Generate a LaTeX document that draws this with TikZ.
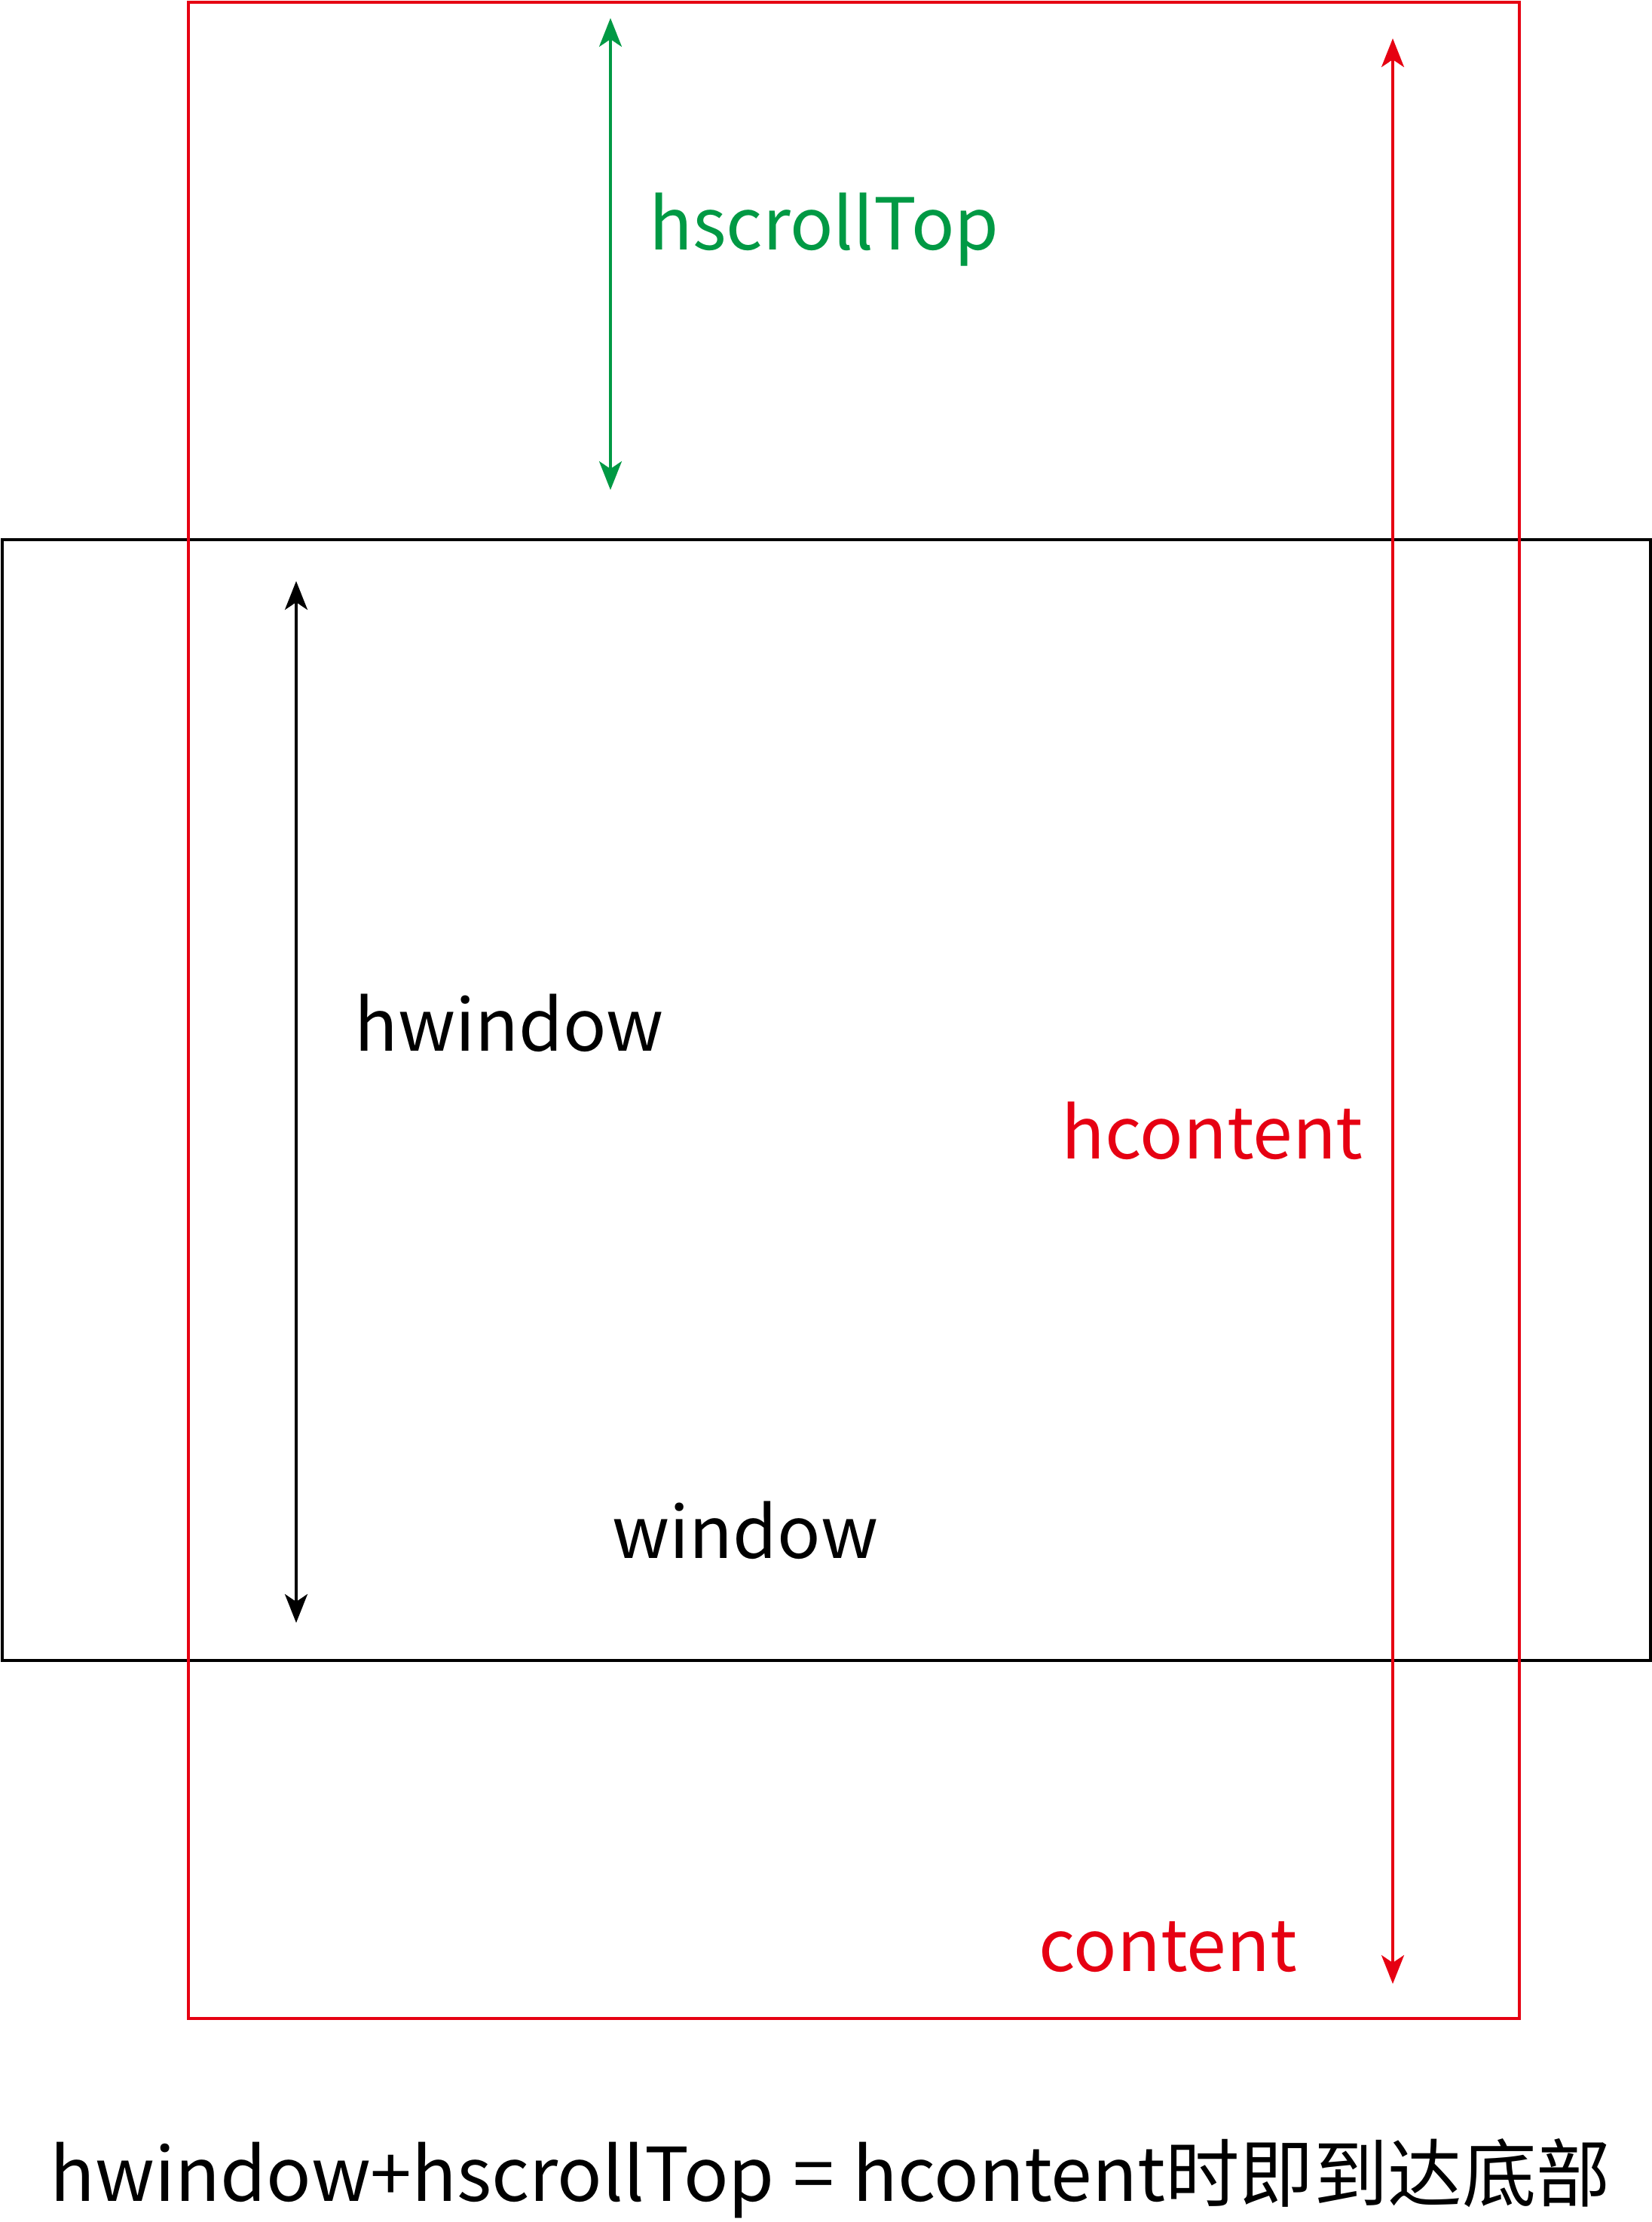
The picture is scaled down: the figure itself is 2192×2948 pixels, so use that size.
\documentclass[tikz,border=0pt]{standalone}
\usepackage{fontspec}
\setmainfont{Noto Sans CJK SC}
\usetikzlibrary{arrows.meta}
\definecolor{cred}{RGB}{230,0,18}
\definecolor{cgreen}{RGB}{0,153,68}
\tikzset{
  dim/.style={line width=1pt,{Stealth[length=0.38cm,width=0.3cm,inset=0.1cm]}-{Stealth[length=0.38cm,width=0.3cm,inset=0.1cm]}},
  lbl/.style={anchor=west,inner sep=0pt,font=\fontsize{27}{30}\selectfont}
}
\begin{document}
\begin{tikzpicture}[x=0.01cm,y=-0.01cm]
    \useasboundingbox (0,0) rectangle (2192,2948);
    \draw[line width=1pt] (3,716) rectangle (2190,2203);
    \draw[cred,line width=1.1pt] (250,3) rectangle (2016,2678);
    \coordinate (gt) at (810,24);
    \coordinate (gb) at (810,650);
    \coordinate (kt) at (393,771);
    \coordinate (kb) at (393,2153);
    \coordinate (rt) at (1848,51);
    \coordinate (rb) at (1848,2632);
    \draw[dim,cgreen] (gt)--(gb);
    \draw[dim,black] (kt)--(kb);
    \draw[dim,cred] (rt)--(rb);
    \node[lbl,cgreen] (sc) at (861,305) {hscrollTop};
    \node[lbl] (hw) at (470,1357) {hwindow};
    \node[lbl,cred] (hc) at (1408,1500) {hcontent};
    \node[lbl] (wi) at (812,2030) {window};
    \node[lbl,cred] (co) at (1378,2583) {content};
    \node[lbl,font=\fontsize{28}{30}\selectfont] (eq) at (66,2890) {hwindow+hscrollTop\hspace{0.25em}=\hspace{0.25em}hcontent时即到达底部};
  \end{tikzpicture}
\end{document}
